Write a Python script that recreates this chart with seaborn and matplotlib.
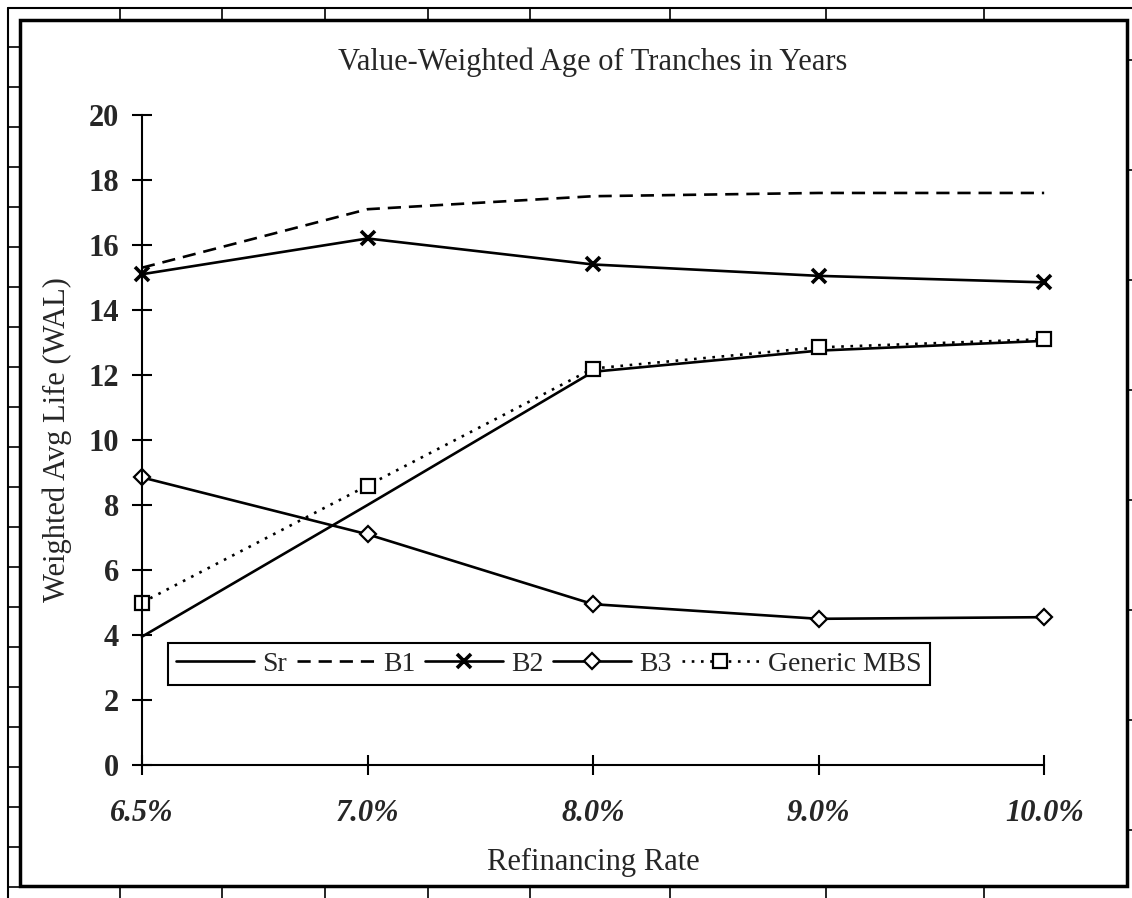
import numpy as np
import pandas as pd
import matplotlib
matplotlib.use("Agg")
import matplotlib.pyplot as plt
from matplotlib.lines import Line2D
import seaborn as sns

rates = ["6.5%", "7.0%", "8.0%", "9.0%", "10.0%"]
sr = [3.95, 8.0, 12.1, 12.75, 13.05]
b1 = [15.3, 17.1, 17.5, 17.6, 17.6]
b2 = [15.1, 16.2, 15.4, 15.05, 14.85]
b3 = [8.85, 7.1, 4.95, 4.5, 4.55]
mbs = [5.0, 8.6, 12.2, 12.85, 13.1]

sns.set_style("white")
plt.rcParams["font.family"] = ["Liberation Serif", "DejaVu Serif"]

df = pd.DataFrame({"rate": rates, "pos": range(len(rates)),
                   "Sr": sr, "B1": b1, "B2": b2, "B3": b3, "Generic MBS": mbs})

fig = plt.figure(figsize=(11.32, 8.98), dpi=100)
ax = fig.add_axes([0.1254, 0.148, 0.797, 0.724])

styles = {
    "Sr": dict(linestyle="-", marker=None),
    "B1": dict(linestyle=(0, (5, 3)), marker=None),
    "B2": dict(linestyle="-", marker="x", markersize=10, markeredgewidth=2.6),
    "B3": dict(linestyle="-", marker="D", markersize=8, markerfacecolor="white",
               markeredgewidth=1.6),
    "Generic MBS": dict(linestyle=(0, (1, 2.5)), marker="s", markersize=10,
                        markerfacecolor="white", markeredgewidth=1.6),
}
for name, st in styles.items():
    sns.lineplot(data=df, x="pos", y=name, ax=ax, color="black", linewidth=1.9,
                 label=name, markeredgecolor="black", clip_on=False, **st)

ax.set_xlim(0, len(rates) - 1)
ax.set_ylim(0, 20)
ax.set_xticks(range(len(rates)))
ax.set_xticklabels(rates, fontsize=22, fontweight="bold", fontstyle="italic")
ax.set_yticks(range(0, 21, 2))
ax.set_yticklabels([str(v) for v in range(0, 21, 2)], fontsize=22, fontweight="bold")
ax.tick_params(axis="both", direction="inout", length=15, width=1.5, color="black",
               left=True, bottom=True)
ax.tick_params(axis="y", pad=9)
ax.tick_params(axis="x", pad=17)
for s in ["top", "right"]:
    ax.spines[s].set_visible(False)
for s in ["left", "bottom"]:
    ax.spines[s].set_color("black")
    ax.spines[s].set_linewidth(1.5)

ax.set_xlabel("Refinancing Rate", fontsize=22, labelpad=14)
ax.set_ylabel("Weighted Avg Life (WAL)", fontsize=22, labelpad=12)
ax.set_title("Value-Weighted Age of Tranches in Years", fontsize=22, pad=32)

leg = ax.legend(loc="center", bbox_to_anchor=(0.451, 0.155), ncol=5, fontsize=20,
                handlelength=2.8, handletextpad=0.3, columnspacing=0.35,
                frameon=True, fancybox=False, framealpha=1, borderpad=0.3,
                borderaxespad=0)
leg.get_frame().set_edgecolor("black")
leg.get_frame().set_linewidth(1.5)

# page frame of the scanned sheet
W, H = 1132, 898
def fx(px):
    return px / W
def fy(py):
    return 1 - py / H

fig.patches.append(plt.Rectangle((fx(20), fy(886)), fx(1127) - fx(20), fy(20) - fy(886),
                                 transform=fig.transFigure, fill=False,
                                 edgecolor="black", linewidth=2.5))
frame = [((8, 8), (8, 898)), ((8, 8), (1132, 8))]
for (x0, y0), (x1, y1) in frame:
    fig.add_artist(Line2D([fx(x0), fx(x1)], [fy(y0), fy(y1)], color="black", lw=1.5))
for yy in range(47, 898, 40):
    fig.add_artist(Line2D([fx(8), fx(20)], [fy(yy), fy(yy)], color="black", lw=1.2))
for xx in [120, 222, 325, 428, 530, 670, 826, 984]:
    fig.add_artist(Line2D([fx(xx), fx(xx)], [fy(8), fy(20)], color="black", lw=1.2))
    fig.add_artist(Line2D([fx(xx), fx(xx)], [fy(886), fy(898)], color="black", lw=1.2))
for yy in range(60, 898, 110):
    fig.add_artist(Line2D([fx(1127), fx(1132)], [fy(yy), fy(yy)], color="black", lw=1.2))

fig.savefig("out.png", dpi=100, facecolor="white")
